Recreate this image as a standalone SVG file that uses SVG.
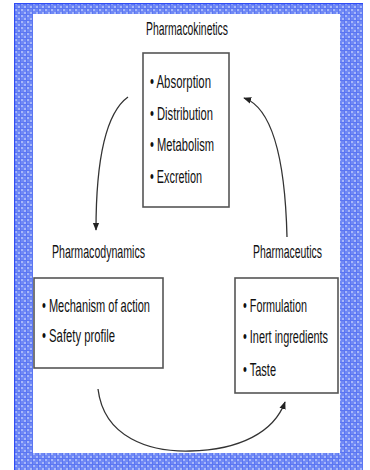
<svg xmlns="http://www.w3.org/2000/svg" width="370" height="470" viewBox="0 0 370 470">
<defs>
<pattern id="tile" width="6" height="6" patternUnits="userSpaceOnUse">
<rect width="6" height="6" fill="#7089f5"/>
<rect x="0" y="0" width="2" height="2" fill="#a8b8f9"/>
<rect x="3" y="3" width="2" height="2" fill="#a8b8f9"/>
<rect x="2" y="0" width="1" height="6" fill="#5b76f2"/>
<rect x="0" y="2" width="6" height="1" fill="#5b76f2"/>
</pattern>
<marker id="ah" viewBox="0 0 10 10" refX="9" refY="5" markerWidth="8" markerHeight="8" markerUnits="userSpaceOnUse" orient="auto">
<path d="M0,1 L10,5 L0,9 Z" fill="#222"/>
</marker>
<style>
.t{font-family:"Liberation Sans",Arial,sans-serif;font-size:11px;fill:#111}
.box{fill:#fff;stroke:#555;stroke-width:1.6}
.c{fill:none;stroke:#333;stroke-width:1.3}
</style>
</defs>
<rect x="14" y="3" width="349" height="467" fill="url(#tile)"/>
<path d="M14.6,470 V3.6 H363" fill="none" stroke="#2f4cf5" stroke-width="1.2"/>
<rect x="33" y="14" width="307" height="439" fill="#fff"/>
<g id="connectors">
<path class="c" d="M128,97 Q96,120 96,230" marker-end="url(#ah)"/>
<path class="c" d="M287,237 Q284,112 244,98" marker-end="url(#ah)"/>
<path class="c" d="M98,389 C104,438 150,452 190,451 C240,450 274,432 285,402" marker-end="url(#ah)"/>
</g>
<g id="pharmacokinetics">
<text class="t" transform="translate(146,35) scale(1,1.68)" textLength="82" lengthAdjust="spacingAndGlyphs">Pharmacokinetics</text>
<rect class="box" x="143" y="53" width="86" height="154"/>
<text class="t" transform="translate(150,88) scale(1,1.68)" textLength="61" lengthAdjust="spacingAndGlyphs">• Absorption</text>
<text class="t" transform="translate(150,120) scale(1,1.68)" textLength="63" lengthAdjust="spacingAndGlyphs">• Distribution</text>
<text class="t" transform="translate(150,151) scale(1,1.68)" textLength="64" lengthAdjust="spacingAndGlyphs">• Metabolism</text>
<text class="t" transform="translate(150,183) scale(1,1.68)" textLength="52" lengthAdjust="spacingAndGlyphs">• Excretion</text>
</g>
<g id="pharmacodynamics">
<text class="t" transform="translate(52,258) scale(1,1.68)" textLength="93" lengthAdjust="spacingAndGlyphs">Pharmacodynamics</text>
<rect class="box" x="34" y="278" width="129" height="90"/>
<text class="t" transform="translate(42,312) scale(1,1.68)" textLength="108" lengthAdjust="spacingAndGlyphs">• Mechanism of action</text>
<text class="t" transform="translate(42,342) scale(1,1.68)" textLength="73" lengthAdjust="spacingAndGlyphs">• Safety profile</text>
</g>
<g id="pharmaceutics">
<text class="t" transform="translate(253,258) scale(1,1.68)" textLength="69" lengthAdjust="spacingAndGlyphs">Pharmaceutics</text>
<rect class="box" x="235" y="278" width="103" height="115"/>
<text class="t" transform="translate(243,312) scale(1,1.68)" textLength="64" lengthAdjust="spacingAndGlyphs">• Formulation</text>
<text class="t" transform="translate(243,343) scale(1,1.68)" textLength="85" lengthAdjust="spacingAndGlyphs">• Inert ingredients</text>
<text class="t" transform="translate(243,376) scale(1,1.68)" textLength="33" lengthAdjust="spacingAndGlyphs">• Taste</text>
</g>
</svg>
